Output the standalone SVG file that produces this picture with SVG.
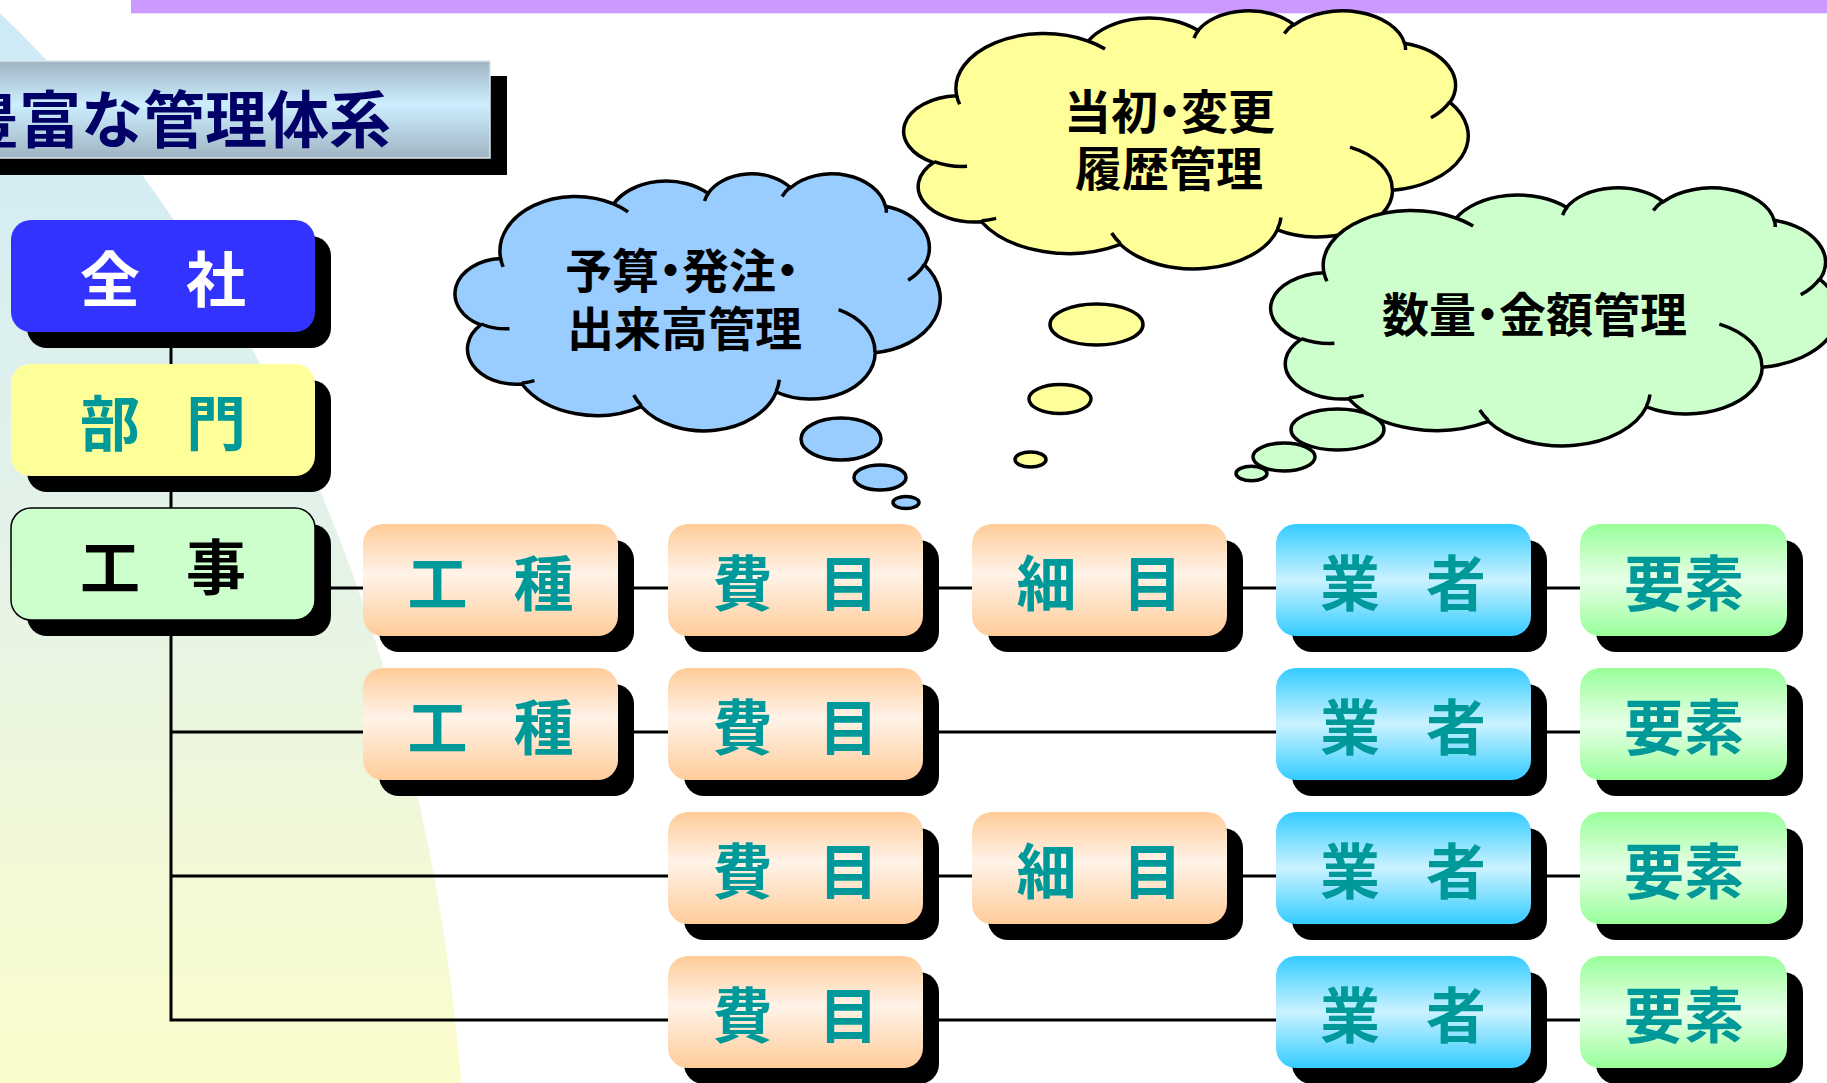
<svg xmlns="http://www.w3.org/2000/svg" width="1827" height="1083" viewBox="0 0 1827 1083">
<style>
.sh{fill:#000}
.nt{font-family:"Noto Sans CJK JP","Noto Sans CJK SC",sans-serif;font-weight:700;font-size:60px;text-anchor:middle}
.teal{fill:#009999}
.ct{font-family:"Noto Sans CJK JP","Noto Sans CJK SC",sans-serif;font-weight:700;font-size:47px;fill:#000}
.cl{stroke:#000;stroke-width:3.5;vector-effect:non-scaling-stroke}
.ci{fill:none;stroke:#000;stroke-width:3.5;vector-effect:non-scaling-stroke}
.bub{stroke:#000;stroke-width:3.5}
.conn{fill:none;stroke:#000;stroke-width:3}
</style>
<defs>
<linearGradient id="bg" gradientUnits="userSpaceOnUse" x1="0" y1="0" x2="0" y2="1083">
<stop offset="0" stop-color="#CDEAF8"/>
<stop offset="0.5" stop-color="#E4F3E8"/>
<stop offset="1" stop-color="#FCFDCC"/>
</linearGradient>
<linearGradient id="gTitle" x1="0" y1="0" x2="0" y2="1">
<stop offset="0" stop-color="#A0B4C2"/>
<stop offset="0.45" stop-color="#CCEEFF"/>
<stop offset="1" stop-color="#A0B4C2"/>
</linearGradient>
<linearGradient id="gPeach" x1="0" y1="0" x2="0" y2="1">
<stop offset="0" stop-color="#FFCC99"/>
<stop offset="0.45" stop-color="#FFF3E8"/>
<stop offset="1" stop-color="#FFCC99"/>
</linearGradient>
<linearGradient id="gBlue" x1="0" y1="0" x2="0" y2="1">
<stop offset="0" stop-color="#33CCFF"/>
<stop offset="0.5" stop-color="#CCF2FF"/>
<stop offset="1" stop-color="#33CCFF"/>
</linearGradient>
<linearGradient id="gGreen" x1="0" y1="0" x2="0" y2="1">
<stop offset="0" stop-color="#99FF99"/>
<stop offset="0.5" stop-color="#E8FFE8"/>
<stop offset="1" stop-color="#99FF99"/>
</linearGradient>
</defs>

<rect width="1827" height="1083" fill="#FFFFFF"/>
<ellipse cx="-600" cy="1250" rx="1068" ry="1495" fill="url(#bg)"/>
<rect x="131" y="0" width="1696" height="13" fill="#CC99FF"/>
<rect x="131" y="13" width="1696" height="1" fill="#EDE0FA"/>

<g id="title">
<rect x="-20" y="76" width="527" height="99" fill="#000"/>
<rect x="-20" y="61" width="510" height="97" fill="url(#gTitle)" stroke="#DDE6EC" stroke-width="1.5"/>
<text x="391" y="143" font-family="'Noto Sans CJK JP','Noto Sans CJK SC',sans-serif" font-weight="700" font-size="62" fill="#000066" text-anchor="end">豊富な管理体系</text>
</g>

<g id="connectors">
<path class="conn" d="M171 300 V1020 H1580 M171 588 H1580 M171 732 H1580 M171 876 H1580"/>
</g>

<g id="n-zensha">
<rect class="sh" x="27" y="236" width="304" height="112" rx="20"/>
<rect x="11" y="220" width="304" height="112" rx="20" fill="#3333FF"/>
<text class="nt" x="110 216" y="302" fill="#FFFFFF">全社</text>
</g>
<g id="n-bumon">
<rect class="sh" x="27" y="380" width="304" height="112" rx="20"/>
<rect x="11" y="364" width="304" height="112" rx="20" fill="#FFFF99"/>
<text class="nt teal" x="110 216" y="446">部門</text>
</g>
<g id="n-kouji">
<rect class="sh" x="27" y="524" width="304" height="112" rx="20"/>
<rect x="11" y="508" width="304" height="112" rx="20" fill="#CCFFCC" stroke="#000" stroke-width="1.5"/>
<text class="nt" x="110 216" y="590" fill="#000">工事</text>
</g>

<!-- row 1 -->
<g id="n-r1-koushu">
<rect class="sh" x="379" y="540" width="255" height="112" rx="20"/>
<rect x="363" y="524" width="255" height="112" rx="20" fill="url(#gPeach)"/>
<text class="nt teal" x="437.5 543.5" y="606">工種</text>
</g>
<g id="n-r1-himoku">
<rect class="sh" x="684" y="540" width="255" height="112" rx="20"/>
<rect x="668" y="524" width="255" height="112" rx="20" fill="url(#gPeach)"/>
<text class="nt teal" x="742.5 848.5" y="606">費目</text>
</g>
<g id="n-r1-saimoku">
<rect class="sh" x="988" y="540" width="255" height="112" rx="20"/>
<rect x="972" y="524" width="255" height="112" rx="20" fill="url(#gPeach)"/>
<text class="nt teal" x="1046.5 1152.5" y="606">細目</text>
</g>
<g id="n-r1-gyosha">
<rect class="sh" x="1292" y="540" width="255" height="112" rx="20"/>
<rect x="1276" y="524" width="255" height="112" rx="20" fill="url(#gBlue)"/>
<text class="nt teal" x="1350 1456" y="606">業者</text>
</g>
<g id="n-r1-youso">
<rect class="sh" x="1596" y="540" width="207" height="112" rx="20"/>
<rect x="1580" y="524" width="207" height="112" rx="20" fill="url(#gGreen)"/>
<text class="nt teal" x="1684" y="606">要素</text>
</g>

<!-- row 2 -->
<g id="n-r2-koushu">
<rect class="sh" x="379" y="684" width="255" height="112" rx="20"/>
<rect x="363" y="668" width="255" height="112" rx="20" fill="url(#gPeach)"/>
<text class="nt teal" x="437.5 543.5" y="750">工種</text>
</g>
<g id="n-r2-himoku">
<rect class="sh" x="684" y="684" width="255" height="112" rx="20"/>
<rect x="668" y="668" width="255" height="112" rx="20" fill="url(#gPeach)"/>
<text class="nt teal" x="742.5 848.5" y="750">費目</text>
</g>
<g id="n-r2-gyosha">
<rect class="sh" x="1292" y="684" width="255" height="112" rx="20"/>
<rect x="1276" y="668" width="255" height="112" rx="20" fill="url(#gBlue)"/>
<text class="nt teal" x="1350 1456" y="750">業者</text>
</g>
<g id="n-r2-youso">
<rect class="sh" x="1596" y="684" width="207" height="112" rx="20"/>
<rect x="1580" y="668" width="207" height="112" rx="20" fill="url(#gGreen)"/>
<text class="nt teal" x="1684" y="750">要素</text>
</g>

<!-- row 3 -->
<g id="n-r3-himoku">
<rect class="sh" x="684" y="828" width="255" height="112" rx="20"/>
<rect x="668" y="812" width="255" height="112" rx="20" fill="url(#gPeach)"/>
<text class="nt teal" x="742.5 848.5" y="894">費目</text>
</g>
<g id="n-r3-saimoku">
<rect class="sh" x="988" y="828" width="255" height="112" rx="20"/>
<rect x="972" y="812" width="255" height="112" rx="20" fill="url(#gPeach)"/>
<text class="nt teal" x="1046.5 1152.5" y="894">細目</text>
</g>
<g id="n-r3-gyosha">
<rect class="sh" x="1292" y="828" width="255" height="112" rx="20"/>
<rect x="1276" y="812" width="255" height="112" rx="20" fill="url(#gBlue)"/>
<text class="nt teal" x="1350 1456" y="894">業者</text>
</g>
<g id="n-r3-youso">
<rect class="sh" x="1596" y="828" width="207" height="112" rx="20"/>
<rect x="1580" y="812" width="207" height="112" rx="20" fill="url(#gGreen)"/>
<text class="nt teal" x="1684" y="894">要素</text>
</g>

<!-- row 4 -->
<g id="n-r4-himoku">
<rect class="sh" x="684" y="972" width="255" height="112" rx="20"/>
<rect x="668" y="956" width="255" height="112" rx="20" fill="url(#gPeach)"/>
<text class="nt teal" x="742.5 848.5" y="1038">費目</text>
</g>
<g id="n-r4-gyosha">
<rect class="sh" x="1292" y="972" width="255" height="112" rx="20"/>
<rect x="1276" y="956" width="255" height="112" rx="20" fill="url(#gBlue)"/>
<text class="nt teal" x="1350 1456" y="1038">業者</text>
</g>
<g id="n-r4-youso">
<rect class="sh" x="1596" y="972" width="207" height="112" rx="20"/>
<rect x="1580" y="956" width="207" height="112" rx="20" fill="url(#gGreen)"/>
<text class="nt teal" x="1684" y="1038">要素</text>
</g>

<!-- clouds -->
<g id="cloud-blue">
<path class="cl" fill="#99CCFF" transform="translate(457 173) scale(0.011181 0.005949)" d="M3900 14370 A6753 9190 0 0 1 14004 5202 A5333 7267 0 0 1 22455 3429 A4365 5945 0 0 1 29833 2479 A4857 6595 0 0 1 38318 5574 A5333 7273 0 0 1 41818 15458 A6775 9220 0 0 1 37404 30200 A5785 7867 0 0 1 28556 36810 A6752 9215 0 0 1 16481 39263 A7720 10543 0 0 1 5804 35467 A4360 5918 0 0 1 2114 25545 A4345 5945 0 0 1 3900 14370 Z"/>
<path class="ci" transform="translate(457 173) scale(0.011181 0.005949)" d="M4693 26177 A4345 5945 0 0 1 2159 25380 M6928 34899 A4360 5918 0 0 1 5820 35281 M16478 39090 A6752 9215 0 0 1 15809 37348 M28827 34751 A6752 9215 0 0 1 28561 36660 M34129 22954 A5785 7867 0 0 1 37381 30090 M41798 15354 A5333 7273 0 0 1 40349 18031 M38324 5426 A4857 6595 0 0 1 38400 6690 M29078 3952 A4857 6595 0 0 1 29820 2339 M22141 4720 A4365 5945 0 0 1 22500 3331 M14000 5192 A6753 9190 0 0 1 15301 6541 M4127 15789 A6753 9190 0 0 1 3900 14371"/>
<ellipse class="bub" cx="841" cy="439" rx="40" ry="21" fill="#99CCFF"/>
<ellipse class="bub" cx="880" cy="477.5" rx="26" ry="12.5" fill="#99CCFF"/>
<ellipse class="bub" cx="906" cy="502.5" rx="13" ry="6" fill="#99CCFF"/>
<text class="ct" x="565" y="288">予算<tspan dx="-12">・</tspan><tspan dx="-12">発注</tspan><tspan dx="-12">・</tspan></text>
<text class="ct" x="684.5" y="346" text-anchor="middle">出来高管理</text>
</g>

<g id="cloud-yellow">
<path class="cl" fill="#FFFF99" transform="translate(906 10) scale(0.013009 0.005972)" d="M3900 14370 A6753 9190 0 0 1 14004 5202 A5333 7267 0 0 1 22455 3429 A4365 5945 0 0 1 29833 2479 A4857 6595 0 0 1 38318 5574 A5333 7273 0 0 1 41818 15458 A6775 9220 0 0 1 37404 30200 A5785 7867 0 0 1 28556 36810 A6752 9215 0 0 1 16481 39263 A7720 10543 0 0 1 5804 35467 A4360 5918 0 0 1 2114 25545 A4345 5945 0 0 1 3900 14370 Z"/>
<path class="ci" transform="translate(906 10) scale(0.013009 0.005972)" d="M4693 26177 A4345 5945 0 0 1 2159 25380 M6928 34899 A4360 5918 0 0 1 5820 35281 M16478 39090 A6752 9215 0 0 1 15809 37348 M28827 34751 A6752 9215 0 0 1 28561 36660 M34129 22954 A5785 7867 0 0 1 37381 30090 M41798 15354 A5333 7273 0 0 1 40349 18031 M38324 5426 A4857 6595 0 0 1 38400 6690 M29078 3952 A4857 6595 0 0 1 29820 2339 M22141 4720 A4365 5945 0 0 1 22500 3331 M14000 5192 A6753 9190 0 0 1 15301 6541 M4127 15789 A6753 9190 0 0 1 3900 14371"/>
<ellipse class="bub" cx="1096.5" cy="324.5" rx="46.5" ry="20.5" fill="#FFFF99"/>
<ellipse class="bub" cx="1060" cy="399" rx="31" ry="14.5" fill="#FFFF99"/>
<ellipse class="bub" cx="1030.5" cy="459.5" rx="15.5" ry="7.5" fill="#FFFF99"/>
<text class="ct" x="1064" y="129">当初<tspan dx="-12">・</tspan><tspan dx="-12">変更</tspan></text>
<text class="ct" x="1169" y="186" text-anchor="middle">履歴管理</text>
</g>

<g id="cloud-green">
<path class="cl" fill="#CCFFCC" transform="translate(1273 187) scale(0.013079 0.005972)" d="M3900 14370 A6753 9190 0 0 1 14004 5202 A5333 7267 0 0 1 22455 3429 A4365 5945 0 0 1 29833 2479 A4857 6595 0 0 1 38318 5574 A5333 7273 0 0 1 41818 15458 A6775 9220 0 0 1 37404 30200 A5785 7867 0 0 1 28556 36810 A6752 9215 0 0 1 16481 39263 A7720 10543 0 0 1 5804 35467 A4360 5918 0 0 1 2114 25545 A4345 5945 0 0 1 3900 14370 Z"/>
<path class="ci" transform="translate(1273 187) scale(0.013079 0.005972)" d="M4693 26177 A4345 5945 0 0 1 2159 25380 M6928 34899 A4360 5918 0 0 1 5820 35281 M16478 39090 A6752 9215 0 0 1 15809 37348 M28827 34751 A6752 9215 0 0 1 28561 36660 M34129 22954 A5785 7867 0 0 1 37381 30090 M41798 15354 A5333 7273 0 0 1 40349 18031 M38324 5426 A4857 6595 0 0 1 38400 6690 M29078 3952 A4857 6595 0 0 1 29820 2339 M22141 4720 A4365 5945 0 0 1 22500 3331 M14000 5192 A6753 9190 0 0 1 15301 6541 M4127 15789 A6753 9190 0 0 1 3900 14371"/>
<ellipse class="bub" cx="1337.5" cy="429.5" rx="46.5" ry="20.5" fill="#CCFFCC"/>
<ellipse class="bub" cx="1284" cy="457" rx="31" ry="14" fill="#CCFFCC"/>
<ellipse class="bub" cx="1251.5" cy="473.5" rx="15.5" ry="7.2" fill="#CCFFCC"/>
<text class="ct" x="1382" y="332">数量<tspan dx="-12">・</tspan><tspan dx="-12">金額管理</tspan></text>
</g>
</svg>
